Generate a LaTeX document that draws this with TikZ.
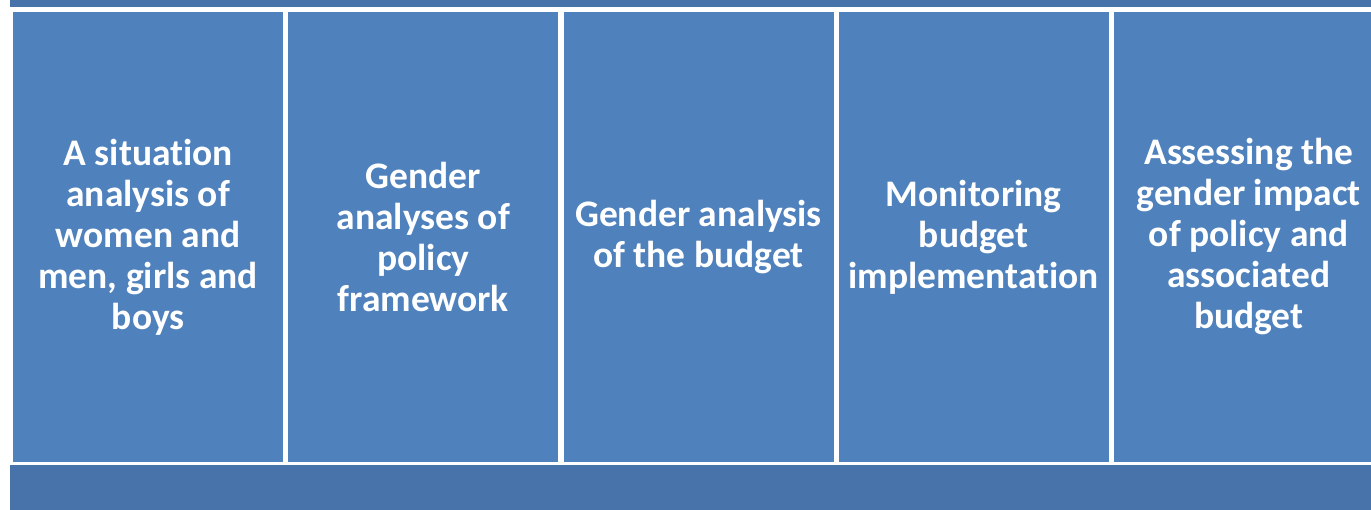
\documentclass[tikz,border=0pt]{standalone}
\usepackage{fontspec}
\setmainfont[Ligatures=NoCommon]{Carlito}
\usetikzlibrary{positioning}

\definecolor{boxblue}{HTML}{4F81BD}
\definecolor{bandblue}{HTML}{4773AA}

\tikzset{
  stage/.style={fill=boxblue, draw=none, inner sep=0pt,
    minimum width=270pt, minimum height=450pt, anchor=south west,
    text=white, align=center, font=\bfseries\fontsize{37.5}{41}\selectfont},
  band/.style={fill=bandblue, draw=none}
}

\begin{document}
\begin{tikzpicture}[x=1pt,y=1pt]
    \useasboundingbox (0,0) rectangle (1371,510);
    \clip (0,0) rectangle (1371,510);
    % Draw the bands above and below
    \fill [band] (10,503) rectangle (1371,510);
    \fill [band] (10,0) rectangle (1371,45);

    % Draw the five stages
    \node [stage] (situation) at (13,48)
      {A situation\\analysis of\\women and\\men, girls and\\boys};
    \node [stage, right=4.75pt of situation.south east, anchor=south west] (policy)
      {Gender\\analyses of\\policy\\framework};
    \node [stage, right=4.75pt of policy.south east, anchor=south west] (budget)
      {Gender analysis\\of the budget};
    \node [stage, right=4.75pt of budget.south east, anchor=south west] (monitoring)
      {Monitoring\\budget\\implementation};
    \node [stage, right=4.75pt of monitoring.south east, anchor=south west] (impact)
      {Assessing the\\gender impact\\of policy and\\associated\\budget};
  \end{tikzpicture}
\end{document}
